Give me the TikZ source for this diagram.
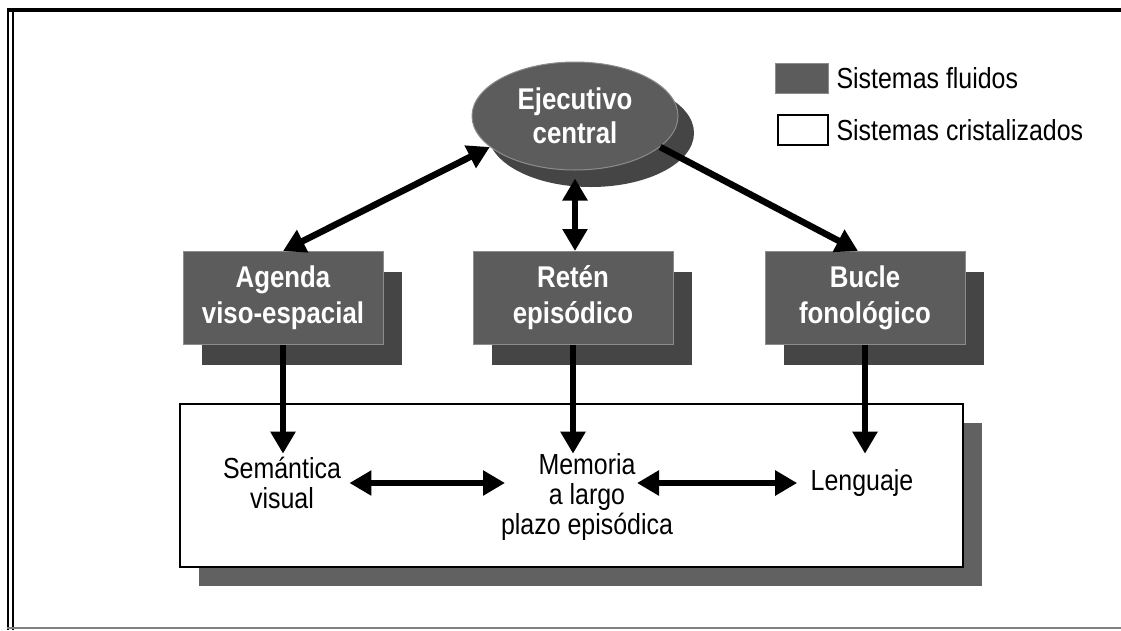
\documentclass[tikz,border=0pt]{standalone}
\usepackage{fontspec}
\setmainfont{Liberation Sans}[FakeStretch=0.86]
\usetikzlibrary{shapes.geometric,arrows.meta,positioning,shadows}

\definecolor{boxgray}{gray}{0.36}
\definecolor{edgegray}{gray}{0.55}
\definecolor{shadowgray}{gray}{0.27}

\begin{document}
\begin{tikzpicture}[x=1pt, y=-1pt,
    fluid/.style={rectangle, fill=boxgray, draw=edgegray, line width=1pt, text=white, align=center,
        font=\fontsize{30}{36}\selectfont\bfseries, minimum width=200pt, minimum height=93pt,
        drop shadow={shadow xshift=19pt, shadow yshift=-20pt, fill=shadowgray, opacity=1}},
    central/.style={ellipse, fill=boxgray, draw=edgegray, line width=1pt, text=white, align=center, inner sep=0pt,
        font=\fontsize{30}{34}\selectfont\bfseries, minimum width=206pt, minimum height=108pt,
        drop shadow={shadow xshift=16pt, shadow yshift=-17pt, fill=shadowgray, opacity=1}},
    crystal/.style={rectangle, fill=white, draw=black, line width=2pt,
        drop shadow={shadow xshift=19pt, shadow yshift=-19pt, fill=shadowgray!85!white, opacity=1}},
    label/.style={align=center, font=\fontsize{29}{30}\selectfont},
    arrow/.style={-{Triangle[length=22pt,width=24pt]}, line width=6.5pt},
    biarrow/.style={{Triangle[length=22pt,width=24pt]}-{Triangle[length=22pt,width=24pt]}, line width=6.5pt}]

    \useasboundingbox (0,0) rectangle (1121,630);

    % frame
    \draw[line width=4pt] (7,10) -- (1121,10);
    \draw[line width=2pt] (8,8) -- (8,630);
    \draw[line width=2pt] (13,12) -- (13,630);
    \draw[line width=1.5pt, gray] (7,628) -- (1121,628);

    % legend
    \node[rectangle, fill=boxgray, draw=edgegray, minimum width=53pt, minimum height=30pt] (keyfluid) at (801.5,78) {};
    \node[label, anchor=west] (keyfluidtxt) at (833,78) {Sistemas fluidos};
    \node[rectangle, fill=white, draw=black, line width=1.2pt, minimum width=50pt, minimum height=30pt] (keycryst) at (803,130) {};
    \node[label, anchor=west] (keycrysttxt) at (833,130) {Sistemas cristalizados};

    % fluid systems
    \node[central] (ejec) at (575,116) {Ejecutivo\\central};
    \node[fluid] (agenda) at (283,298) {Agenda\\viso-espacial};
    \node[fluid, right=89pt of agenda] (reten) {Retén\\episódico};
    \node[fluid, right=91pt of reten] (bucle) {Bucle\\fonológico};

    % crystallized systems
    \node[crystal, minimum width=783pt, minimum height=163pt] (ltm) at (571.5,485.5) {};
    \node[label] (sem) at (282,483) {Semántica\\visual};
    \node[label] (mem) at (587,497) {Memoria\\a largo\\plazo episódica};
    \node[label] (leng) at (862,483) {Lenguaje};

    \draw[biarrow] (ejec.200) -- (agenda.north);
    \draw[biarrow, shorten <=8pt] (ejec.south) -- (ejec.south |- reten.north);
    \draw[arrow] (ejec.-20) -- ([xshift=-7pt]bucle.north);

    \draw[arrow] (agenda.south) -- (agenda.south |- sem.north);
    \draw[arrow] (reten.south) -- (reten.south |- sem.north);
    \draw[arrow] (bucle.south) -- (bucle.south |- sem.north);

    \draw[biarrow, shorten <=5pt, shorten >=82pt] (sem.east) -- (sem.east -| mem.center);
    \draw[biarrow, shorten <=10pt, shorten >=50pt] (leng.west) -- (leng.west -| mem.center);
\end{tikzpicture}
\end{document}
